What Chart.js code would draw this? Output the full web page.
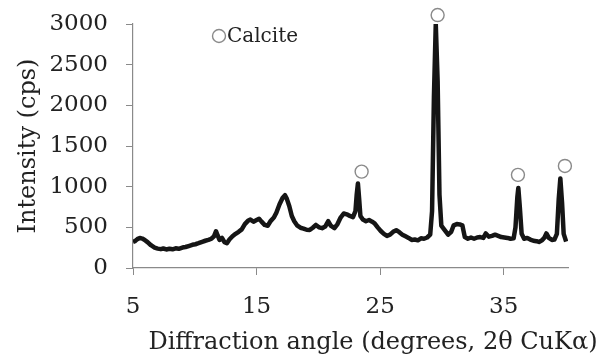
<!DOCTYPE html>
<html>
<head>
<meta charset="utf-8">
<script src="https://cdn.jsdelivr.net/npm/chart.js@4/dist/chart.umd.min.js"></script>
<style>
  html, body { margin: 0; padding: 0; background: #ffffff; }
  #wrap { width: 606px; height: 361px; }
</style>
</head>
<body>
<div id="wrap"><canvas id="c" width="606" height="361"></canvas></div>
<script>
// ---- data ----
const angle = [
  5.0, 5.15, 5.35, 5.55, 5.75, 5.95, 6.2, 6.45, 6.75, 7.0, 7.25, 7.45, 7.7, 7.95, 8.2, 8.45, 8.7,
  9.0, 9.25, 9.5, 9.8, 10.05, 10.3, 10.6, 10.85, 11.1, 11.35, 11.55, 11.72, 11.85, 12.0, 12.2,
  12.4, 12.6, 12.8, 13.05, 13.3, 13.55, 13.8, 14.05, 14.3, 14.5, 14.75, 15.0, 15.2, 15.4, 15.65,
  15.9, 16.15, 16.4, 16.6, 16.85, 17.1, 17.3, 17.45, 17.65, 17.85, 18.05, 18.3, 18.55, 18.8,
  19.05, 19.3, 19.55, 19.8, 20.05, 20.3, 20.55, 20.8, 21.0, 21.3, 21.55, 21.8, 22.05, 22.3,
  22.55, 22.8, 23.0, 23.1, 23.2, 23.3, 23.4, 23.6, 23.85, 24.1, 24.35, 24.55, 24.8, 25.05,
  25.3, 25.55, 25.8, 26.05, 26.3, 26.55, 26.8, 27.05, 27.3, 27.55, 27.8, 28.05, 28.3, 28.55,
  28.8, 29.05, 29.2, 29.35, 29.5, 29.65, 29.8, 29.95, 30.1, 30.3, 30.5, 30.75, 30.95, 31.2,
  31.45, 31.65, 31.85, 32.1, 32.35, 32.6, 32.85, 33.1, 33.35, 33.55, 33.8, 34.05, 34.3, 34.55,
  34.8, 35.05, 35.3, 35.55, 35.8, 35.95, 36.1, 36.18, 36.3, 36.45, 36.65, 36.9, 37.15, 37.4,
  37.65, 37.85, 38.1, 38.3, 38.45, 38.65, 38.9, 39.1, 39.3, 39.45, 39.58, 39.72, 39.85, 40.05
];
const intensity = [
  320, 330, 355, 370, 362, 345, 315, 280, 250, 238, 232, 240, 228, 236, 230, 242, 236,
  252, 258, 270, 285, 292, 305, 322, 335, 345, 360, 390, 452, 400, 345, 370,
  318, 305, 350, 390, 420, 445, 475, 540, 580, 595, 570, 590, 605, 570, 530,
  520, 580, 620, 680, 780, 860, 895, 850, 760, 640, 575, 520, 495, 485,
  470, 468, 495, 530, 500, 490, 510, 575, 520, 490, 540, 620, 670, 660,
  640, 625, 700, 900, 1040, 850, 640, 595, 575, 590, 570, 550, 500, 455,
  420, 395, 410, 445, 465, 440, 410, 390, 370, 345, 350, 340, 365, 360,
  375, 410, 700, 2100, 3000, 2300, 900, 520, 490, 450, 410, 445, 525, 540,
  535, 525, 380, 360, 375, 360, 375, 380, 370, 425, 385, 395, 410, 395,
  380, 375, 370, 360, 365, 500, 870, 985, 750, 420, 360, 370, 350, 335,
  330, 320, 340, 375, 425, 370, 345, 350, 420, 850, 1100, 800, 420, 325
];
// calcite peak markers (open circles)
const calciteAngle = [23.5, 29.65, 36.15, 39.95];
const calciteLevel = [1185, 3110, 1145, 1255];
const xTicks = [5, 15, 25, 35];
const yTicks = [0, 500, 1000, 1500, 2000, 2500, 3000];
const xTitle = 'Diffraction angle (degrees, 2\u03B8 CuK\u03B1)';
const yTitle = 'Intensity (cps)';
const legendLabel = 'Calcite';

const FONT = "'DejaVu Serif', 'Liberation Serif', serif";

const pattern = angle.map((a, i) => ({ x: a, y: intensity[i] }));

const overlay = {
  id: 'overlay',
  afterDatasetsDraw(chart) {
    const ctx = chart.ctx;
    const xs = chart.scales.x, ys = chart.scales.y;
    ctx.save();
    ctx.strokeStyle = '#8a8a8a';
    ctx.lineWidth = 1.4;
    // peak markers placed through the chart's scales
    calciteAngle.forEach((a, i) => {
      ctx.beginPath();
      ctx.arc(xs.getPixelForValue(a), ys.getPixelForValue(calciteLevel[i]), 6.5, 0, Math.PI * 2);
      ctx.stroke();
    });
    // legend: open circle + label
    ctx.beginPath();
    ctx.arc(219, 36, 6.5, 0, Math.PI * 2);
    ctx.stroke();
    ctx.fillStyle = '#222';
    ctx.font = "20px " + FONT;
    ctx.textAlign = 'left';
    ctx.textBaseline = 'middle';
    ctx.fillText(legendLabel, 227, 37);
    // x-axis title
    ctx.font = "24px " + FONT;
    ctx.textAlign = 'center';
    ctx.fillText(xTitle, 373, 343);
    ctx.restore();
  }
};

new Chart(document.getElementById('c'), {
  type: 'scatter',
  data: {
    datasets: [
      {
        label: 'pattern',
        data: pattern,
        showLine: true,
        borderColor: '#151515',
        borderWidth: 4.5,
        pointRadius: 0,
        tension: 0,
        borderJoinStyle: 'round'
      }
    ]
  },
  options: {
    responsive: false,
    animation: false,
    layout: { padding: { top: 24, right: 38, left: 0, bottom: 0 } },
    plugins: { legend: { display: false }, tooltip: { enabled: false } },
    scales: {
      x: {
        type: 'linear',
        min: 5,
        max: 40.2,
        afterBuildTicks(scale) { scale.ticks = xTicks.map(v => ({ value: v })); },
        afterFit(scale) { scale.height = 93; scale.paddingLeft = 0; scale.paddingRight = 0; },
        grid: { drawOnChartArea: false, drawTicks: true, tickLength: 7, color: '#8a8a8a' },
        border: { color: '#8a8a8a', width: 1.2 },
        ticks: { color: '#222', padding: 18, maxRotation: 0, font: { family: FONT, size: 23 },
                 callback: v => String(v) },
        title: { display: false }
      },
      y: {
        min: 0,
        max: 3000,
        afterBuildTicks(scale) { scale.ticks = yTicks.map(v => ({ value: v })); },
        afterFit(scale) { scale.width = 133; scale.paddingTop = 0; scale.paddingBottom = 0; },
        grid: { drawOnChartArea: false, drawTicks: true, tickLength: 7, color: '#8a8a8a' },
        border: { color: '#8a8a8a', width: 1.2 },
        ticks: { color: '#222', padding: 18, font: { family: FONT, size: 23 },
                 callback: v => String(v) },
        title: {
          display: true,
          text: yTitle,
          color: '#222',
          font: { family: FONT, size: 24 },
          padding: { top: 14, bottom: 0 }
        }
      }
    }
  },
  plugins: [overlay]
});
</script>
</body>
</html>
